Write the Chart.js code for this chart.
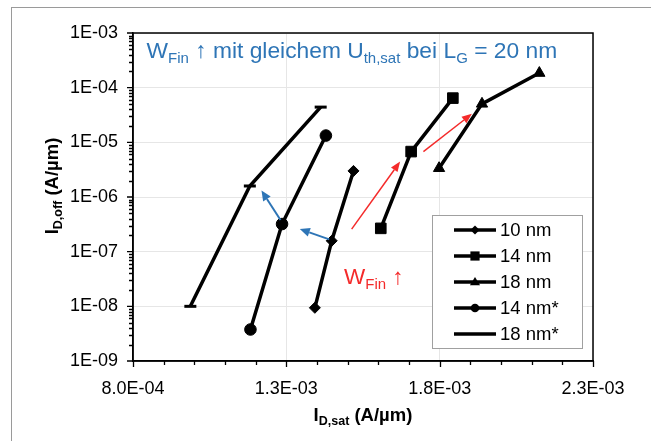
<!DOCTYPE html>
<html>
<head>
<meta charset="utf-8">
<script src="https://cdn.jsdelivr.net/npm/chart.js@4"></script>
<style>
  body { margin: 0; background: #fff; }
  #wrap { position: relative; width: 651px; height: 441px; overflow: hidden; }
  #frame { position: absolute; left: 11px; top: 7px; width: 700px; height: 500px; border: 1px solid #9a9a9a; }
  canvas { position: absolute; left: 0; top: 0; }
</style>
</head>
<body>
<div id="wrap"><div id="frame"></div><canvas id="c" width="651" height="441"></canvas></div>
<script>
// data (I_D,sat in A/um, I_D,off in A/um)
const x10 = [1.393e-3, 1.448e-3, 1.519e-3];
const y10 = [9.4e-9, 1.58e-7, 3.0e-6];
const x14 = [1.608e-3, 1.707e-3, 1.843e-3];
const y14 = [2.67e-7, 6.77e-6, 6.44e-5];
const x18 = [1.798e-3, 1.938e-3, 2.125e-3];
const y18 = [3.36e-6, 5.06e-5, 1.85e-4];
const x14s = [1.183e-3, 1.286e-3, 1.429e-3];
const y14s = [3.77e-9, 3.2e-7, 1.33e-5];
const x18s = [9.87e-4, 1.181e-3, 1.412e-3];
const y18s = [1.0e-8, 1.59e-6, 4.41e-5];

const seriesNames = ['10 nm', '14 nm', '18 nm', '14 nm*', '18 nm*'];

// tick labels
const xTickVals = [8e-4, 1.3e-3, 1.8e-3, 2.3e-3];
const xTickLabels = ['8.0E-04', '1.3E-03', '1.8E-03', '2.3E-03'];
const yTickVals = [1e-9, 1e-8, 1e-7, 1e-6, 1e-5, 1e-4, 1e-3];
const yTickLabels = ['1E-09', '1E-08', '1E-07', '1E-06', '1E-05', '1E-04', '1E-03'];
const xMinorStep = 1e-4;

// annotation arrows [x0, y0, x1, y1] in data units
const blueArrows = [[1.440e-3, 1.68e-7, 1.344e-3, 2.59e-7], [1.281e-3, 3.8e-7, 1.219e-3, 1.31e-6]];
const redArrows = [[1.513e-3, 2.59e-7, 1.671e-3, 4.44e-6], [1.747e-3, 6.77e-6, 1.905e-3, 3.32e-5]];

const FONT = "'Liberation Sans', Arial, sans-serif";
const BLUE = '#2e75b6';
const RED = '#f42a2a';

function pts(xs, ys) { return xs.map((x, i) => ({ x: x, y: ys[i] })); }

function ds(label, xs, ys, style, r) {
  return {
    label: label, data: pts(xs, ys), showLine: true,
    borderColor: '#000', borderWidth: 3.5, backgroundColor: '#000',
    pointStyle: style, pointRadius: r, pointBackgroundColor: '#000',
    pointBorderColor: '#000', pointBorderWidth: style === 'line' ? 3 : 1
  };
}

function drawRich(ctx, x, y, parts, align) {
  let w = 0;
  parts.forEach(p => { ctx.font = (p[3] || '') + ' ' + p[1] + 'px ' + FONT; w += ctx.measureText(p[0]).width; });
  let cx = align === 'center' ? x - w / 2 : x;
  parts.forEach(p => {
    ctx.font = (p[3] || '') + ' ' + p[1] + 'px ' + FONT;
    ctx.fillText(p[0], cx, y + p[2]);
    cx += ctx.measureText(p[0]).width;
  });
}

function arrow(ctx, x0, y0, x1, y1, color, lw, hl, hw) {
  const a = Math.atan2(y1 - y0, x1 - x0);
  const bx = x1 - Math.cos(a) * hl, by = y1 - Math.sin(a) * hl;
  ctx.strokeStyle = color; ctx.fillStyle = color; ctx.lineWidth = lw;
  ctx.beginPath(); ctx.moveTo(x0, y0); ctx.lineTo(bx, by); ctx.stroke();
  ctx.beginPath();
  ctx.moveTo(x1, y1);
  ctx.lineTo(bx + Math.sin(a) * hw / 2, by - Math.cos(a) * hw / 2);
  ctx.lineTo(bx - Math.sin(a) * hw / 2, by + Math.cos(a) * hw / 2);
  ctx.closePath(); ctx.fill();
}

function marker(ctx, style, x, y, r) {
  ctx.fillStyle = '#000';
  ctx.beginPath();
  if (style === 'rectRot') {
    ctx.moveTo(x, y - r); ctx.lineTo(x + r, y); ctx.lineTo(x, y + r); ctx.lineTo(x - r, y);
  } else if (style === 'rect') {
    ctx.rect(x - r, y - r, 2 * r, 2 * r);
  } else if (style === 'triangle') {
    ctx.moveTo(x, y - r * 1.1); ctx.lineTo(x + r * 1.1, y + r * 0.7); ctx.lineTo(x - r * 1.1, y + r * 0.7);
  } else if (style === 'circle') {
    ctx.arc(x, y, r, 0, Math.PI * 2);
  } else {
    return;
  }
  ctx.closePath(); ctx.fill();
}

const extras = {
  id: 'extras',
  afterDatasetsDraw(chart) {
    const ctx = chart.ctx, a = chart.chartArea;
    const xs = chart.scales.x, ys = chart.scales.y;
    ctx.save();

    // arrows
    blueArrows.forEach(d => arrow(ctx, xs.getPixelForValue(d[0]), ys.getPixelForValue(d[1]),
      xs.getPixelForValue(d[2]), ys.getPixelForValue(d[3]), BLUE, 2, 10, 9));
    redArrows.forEach(d => arrow(ctx, xs.getPixelForValue(d[0]), ys.getPixelForValue(d[1]),
      xs.getPixelForValue(d[2]), ys.getPixelForValue(d[3]), RED, 1.5, 10, 8));

    // annotation texts
    ctx.textAlign = 'left'; ctx.textBaseline = 'alphabetic';
    ctx.fillStyle = BLUE;
    drawRich(ctx, a.left + 13.5, a.top + 25, [['W', 22.8, 0], ['Fin', 15, 4.5], [' \u2191 mit gleichem U', 22.8, 0],
      ['th,sat', 15, 4.5], [' bei L', 22.8, 0], ['G', 15, 4.5], [' = 20 nm', 22.8, 0]]);
    ctx.fillStyle = RED;
    drawRich(ctx, 344, 284, [['W', 22.5, 0], ['Fin', 15, 4.5], [' \u2191', 22.5, 0]]);

    // legend
    const lx = a.right - 161, ly = a.top + 182, lw = 150, lh = 133;
    ctx.fillStyle = '#fff'; ctx.fillRect(lx, ly, lw, lh);
    ctx.strokeStyle = '#a0a0a0'; ctx.lineWidth = 1; ctx.strokeRect(lx + 0.5, ly + 0.5, lw, lh);
    chart.data.datasets.forEach((d, i) => {
      const cy = ly + 15 + i * 26;
      ctx.strokeStyle = '#000'; ctx.lineWidth = 3.5;
      ctx.beginPath(); ctx.moveTo(lx + 22, cy); ctx.lineTo(lx + 64, cy); ctx.stroke();
      marker(ctx, d.pointStyle, lx + 43, cy, d.pointStyle === 'circle' ? 4.3 : 4.6);
      ctx.fillStyle = '#000'; ctx.font = '18.5px ' + FONT; ctx.textBaseline = 'middle';
      ctx.fillText(seriesNames[i], lx + 68, cy + 1);
    });

    // plot frame
    ctx.strokeStyle = '#000'; ctx.lineWidth = 1.5;
    ctx.strokeRect(a.left, a.top, a.right - a.left, a.bottom - a.top);

    // tick marks
    ctx.lineWidth = 1.3;
    ctx.beginPath();
    for (let v = xs.min; v <= xs.max + 1e-9; v += xMinorStep) {
      const px = Math.round(xs.getPixelForValue(v)) + 0.5;
      const major = xTickVals.some(t => Math.abs(t - v) < 1e-8);
      ctx.moveTo(px, a.bottom); ctx.lineTo(px, a.bottom + (major ? 6 : 4));
    }
    yTickVals.forEach((t, k) => {
      const py = ys.getPixelForValue(t);
      ctx.moveTo(a.left, py); ctx.lineTo(a.left - 6, py);
      if (k < yTickVals.length - 1) {
        for (let m = 2; m <= 9; m++) {
          const pm = Math.round(ys.getPixelForValue(t * m)) + 0.5;
          ctx.moveTo(a.left, pm); ctx.lineTo(a.left - 4, pm);
        }
      }
    });
    ctx.stroke();

    // axis titles
    ctx.fillStyle = '#000'; ctx.textBaseline = 'alphabetic';
    drawRich(ctx, (a.left + a.right) / 2, 421, [['I', 18.5, 0, 'bold'], ['D,sat', 12.5, 4, 'bold'], [' (A/\u00b5m)', 18.5, 0, 'bold']], 'center');
    ctx.translate(57.5, 186);
    ctx.rotate(-Math.PI / 2);
    drawRich(ctx, 0, 0, [['I', 18.5, 0, 'bold'], ['D,off', 12.5, 4, 'bold'], [' (A/\u00b5m)', 18.5, 0, 'bold']], 'center');
    ctx.restore();
  }
};

new Chart(document.getElementById('c'), {
  type: 'scatter',
  data: {
    datasets: [
      ds(seriesNames[0], x10, y10, 'rectRot', 5.5),
      ds(seriesNames[1], x14, y14, 'rect', 7.5),
      ds(seriesNames[2], x18, y18, 'triangle', 6.5),
      ds(seriesNames[3], x14s, y14s, 'circle', 5.8),
      ds(seriesNames[4], x18s, y18s, 'line', 6)
    ]
  },
  options: {
    responsive: false,
    animation: false,
    devicePixelRatio: 1,
    layout: { padding: { top: 33, right: 58, bottom: 0, left: 0 } },
    plugins: { legend: { display: false }, tooltip: { enabled: false } },
    scales: {
      x: {
        type: 'linear', min: 8e-4, max: 2.3e-3,
        afterBuildTicks: s => { s.ticks = xTickVals.map(v => ({ value: v })); },
        afterFit: s => { s.height = 80; },
        grid: { color: '#e6e6e6', lineWidth: 1, drawTicks: false },
        border: { display: true, color: '#000', width: 1.5 },
        ticks: {
          callback: (v, i) => xTickLabels[i], color: '#000', padding: 17,
          maxRotation: 0, autoSkip: false, font: { family: FONT, size: 18 }
        }
      },
      y: {
        type: 'logarithmic', min: 1e-9, max: 1e-3,
        afterBuildTicks: s => { s.ticks = yTickVals.map(v => ({ value: v })); },
        afterFit: s => { s.width = 133; },
        grid: { color: '#e6e6e6', lineWidth: 1, drawTicks: false },
        border: { display: true, color: '#000', width: 1.5 },
        ticks: {
          callback: (v, i) => yTickLabels[i], color: '#000', padding: 15,
          autoSkip: false, font: { family: FONT, size: 18 }
        }
      }
    }
  },
  plugins: [extras]
});
</script>
</body>
</html>
